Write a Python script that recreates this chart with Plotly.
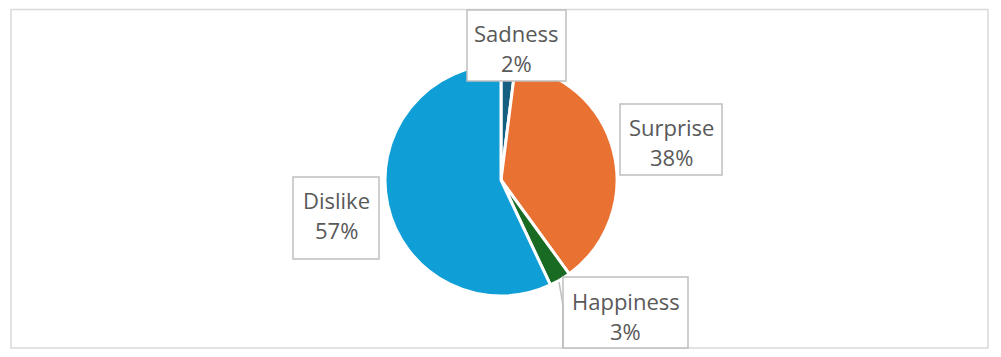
import plotly.graph_objects as go

labels = ["Sadness", "Surprise", "Happiness", "Dislike"]
values = [2, 38, 3, 57]
colors = ["#156082", "#E97132", "#196B24", "#0F9ED5"]

W, H = 1001, 357

def px(x):
    return x / W

def py(y):
    return 1 - y / H

# pie geometry (pixels)
cx, cy, r = 501, 180, 116

fig = go.Figure(go.Pie(
    labels=labels, values=values, sort=False, direction="clockwise", rotation=0,
    marker=dict(colors=colors, line=dict(color="white", width=3)),
    textinfo="none", showlegend=False,
    domain=dict(x=[px(cx - r), px(cx + r)], y=[py(cy + r), py(cy - r)]),
))

total = sum(values)
pcts = [round(v * 100 / total) for v in values]

# label boxes (pixel): x0, y0, x1, y1, text-centre y
boxes = {
    "Sadness": (467, 10, 566, 81, 48),
    "Surprise": (620, 104, 722, 175, 142),
    "Happiness": (563, 277, 688, 348, 316),
    "Dislike": (293, 177, 379, 259, 215),
}

shapes = []
annotations = []
font = dict(family="Open Sans", size=22, color="#595959")
for lab, p in zip(labels, pcts):
    x0, y0, x1, y1, ty = boxes[lab]
    shapes.append(dict(type="rect", xref="paper", yref="paper",
                       x0=px(x0), x1=px(x1), y0=py(y1), y1=py(y0),
                       line=dict(color="#BFBFBF", width=1.5), fillcolor="white", layer="above"))
    for txt, dy in ((lab, -15), (f"{p}%", 15)):
        annotations.append(dict(xref="paper", yref="paper", x=px((x0 + x1) / 2), y=py(ty + dy),
                                xanchor="center", yanchor="middle", showarrow=False,
                                text=txt, font=font))

# leader line for Happiness
shapes.append(dict(type="path", xref="paper", yref="paper",
                   path=f"M {px(559)},{py(282)} L {px(563)},{py(305)} L {px(563)},{py(347)}",
                   line=dict(color="#BFBFBF", width=1.5), layer="above"))

# chart border
shapes.append(dict(type="rect", xref="paper", yref="paper",
                   x0=px(11), x1=px(988), y0=py(348), y1=py(9.5),
                   line=dict(color="#D9D9D9", width=1.5), layer="below"))

fig.update_layout(
    width=W, height=H, margin=dict(l=0, r=0, t=0, b=0),
    paper_bgcolor="white", plot_bgcolor="white",
    shapes=shapes, annotations=annotations,
)

fig.write_html("out.html", config={"displayModeBar": False},
               post_script="document.body.style.margin='0';document.body.style.overflow='hidden';")
